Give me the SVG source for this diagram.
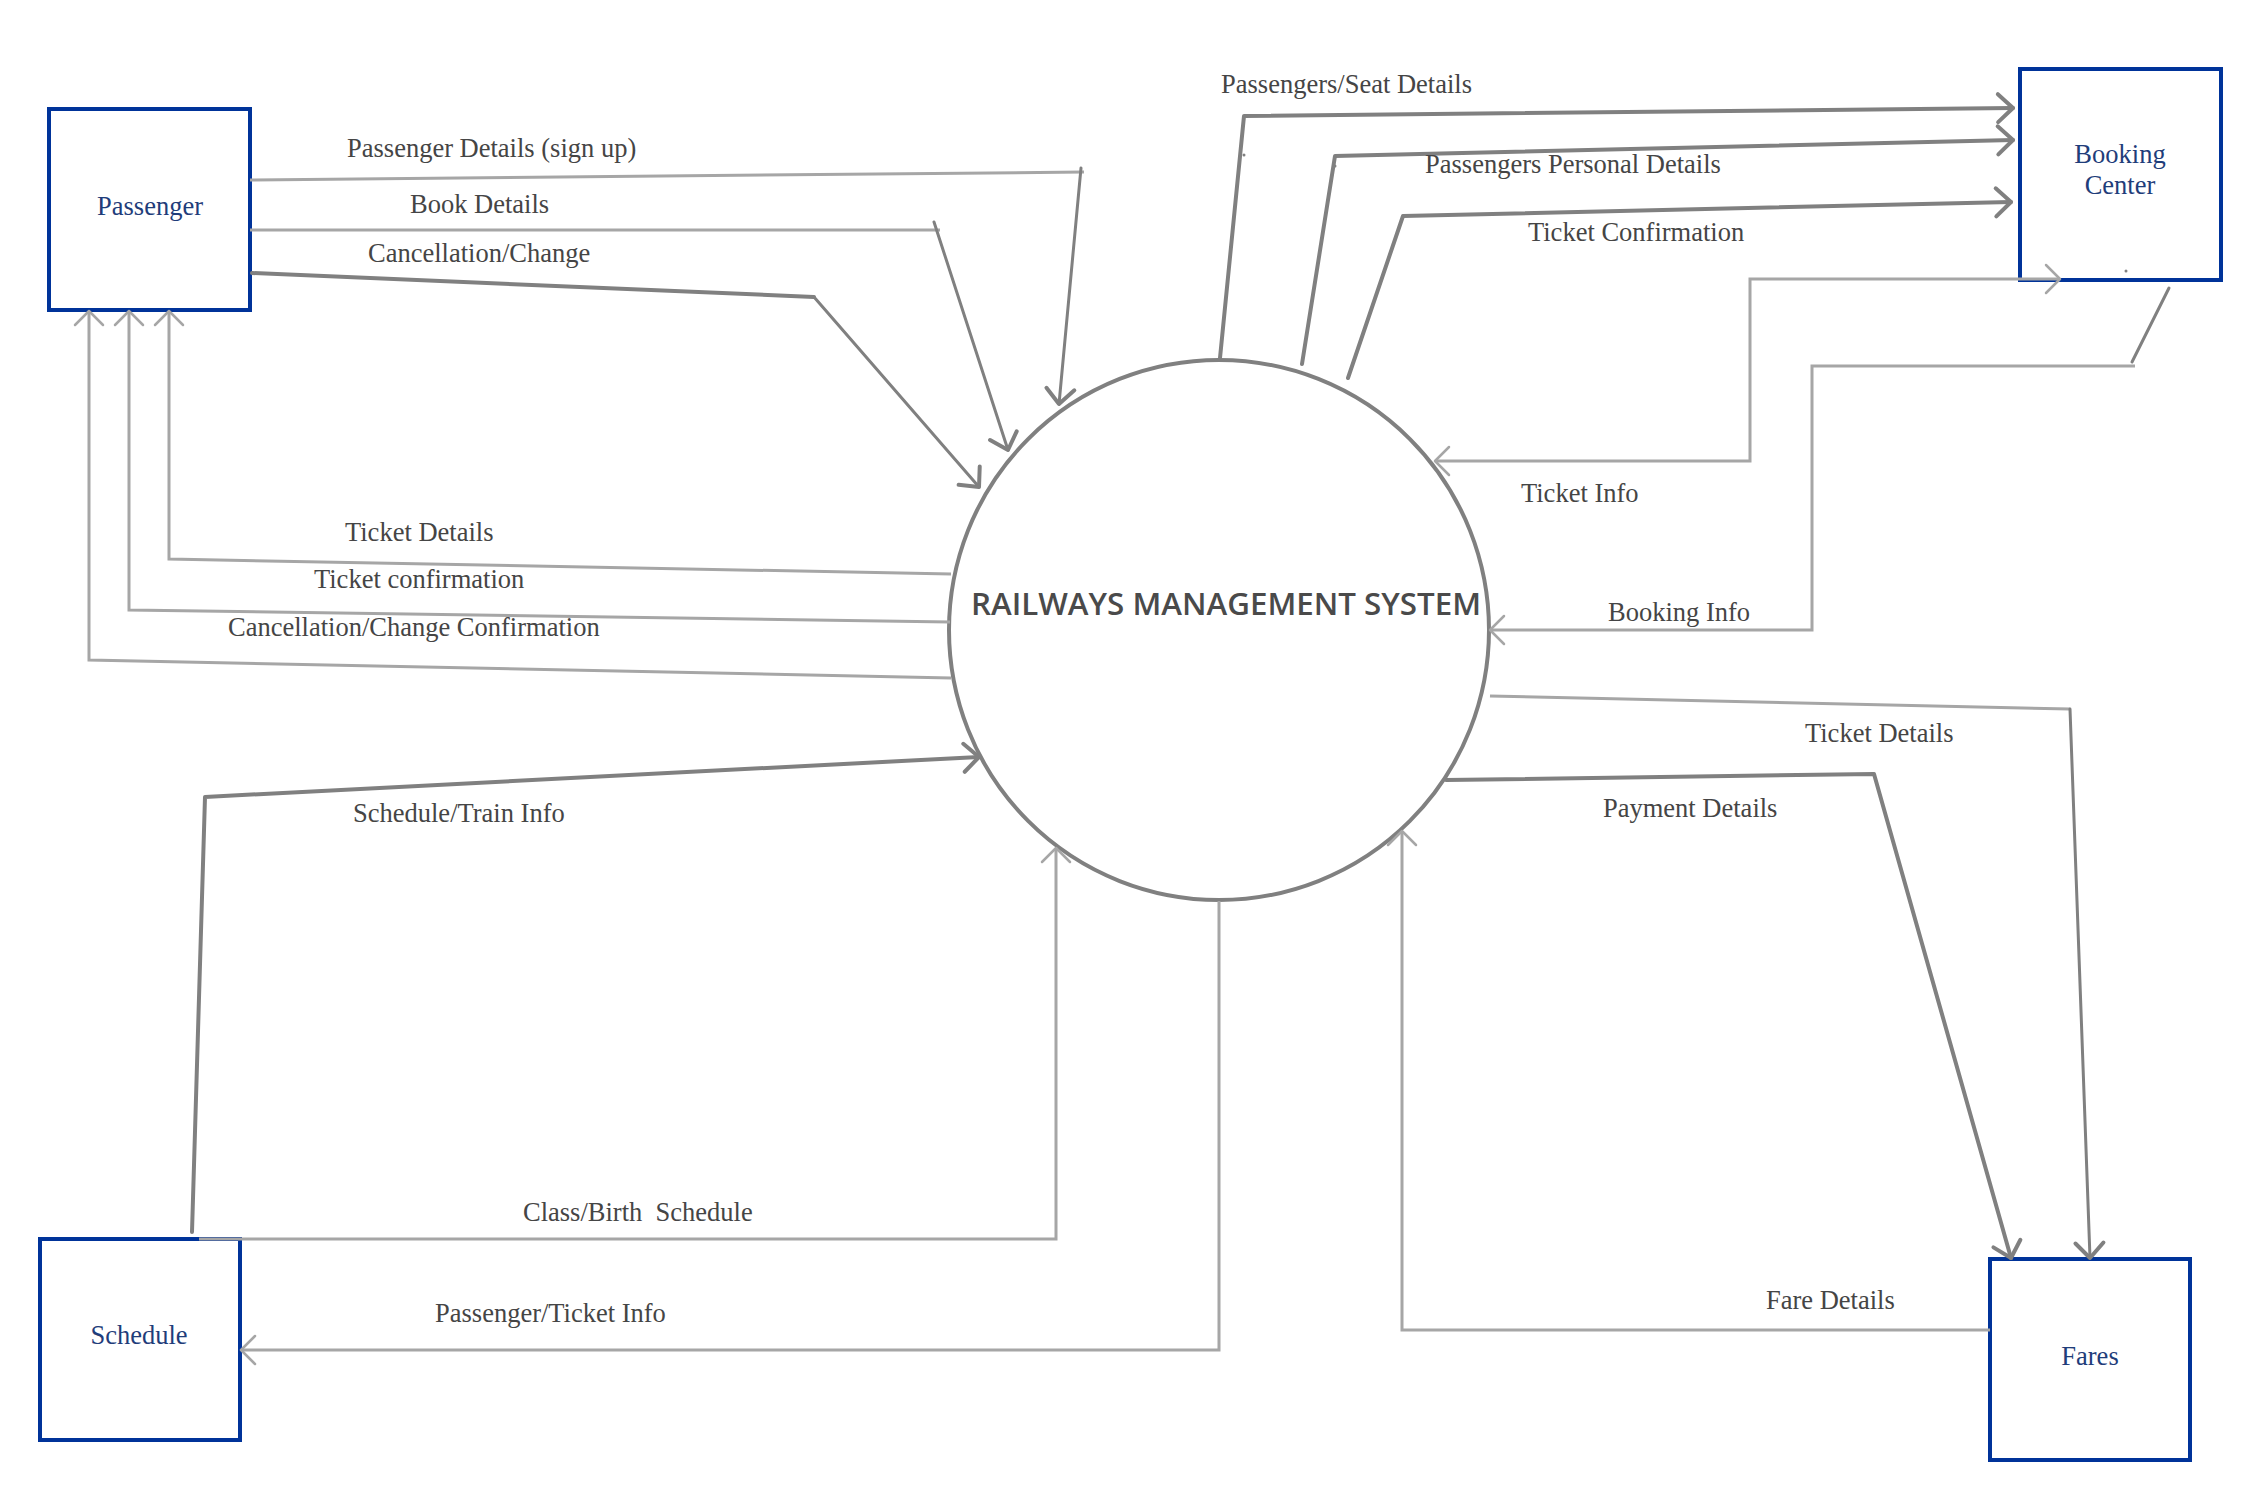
<svg xmlns="http://www.w3.org/2000/svg" width="2260" height="1500" viewBox="0 0 2260 1500">
<style>
.node rect{fill:#ffffff;stroke:#003399;stroke-width:4}
.ntext{font-family:"Liberation Serif","Times New Roman",serif;font-size:26.5px;fill:#1f3d7a;text-anchor:middle}
.lbl{font-family:"Liberation Serif","Times New Roman",serif;font-size:26.5px;fill:#454545;white-space:pre}
.dk{fill:none;stroke:#808080;stroke-width:4;stroke-linejoin:round;stroke-linecap:round}
.dk3{fill:none;stroke:#808080;stroke-width:3;stroke-linejoin:round;stroke-linecap:round}
.lt{fill:none;stroke:#a6a6a6;stroke-width:3;stroke-linejoin:miter}
.title{font-family:"Open Sans","Noto Sans","DejaVu Sans",sans-serif;font-size:31px;font-weight:600;fill:#4a4a4a;text-anchor:middle}
</style>
<defs>
<marker id="ad" markerUnits="userSpaceOnUse" viewBox="-22 -18 26 36" refX="0" refY="0" markerWidth="26" markerHeight="36" orient="auto-start-reverse">
<path d="M-15,-14 L0,0 L-15,14" fill="none" stroke="#808080" stroke-width="4" stroke-linecap="round" stroke-linejoin="round"/>
</marker>
<marker id="al" markerUnits="userSpaceOnUse" viewBox="-22 -18 26 36" refX="0" refY="0" markerWidth="26" markerHeight="36" orient="auto-start-reverse">
<path d="M-14,-14 L0,0 L-14,14" fill="none" stroke="#a6a6a6" stroke-width="2.5" stroke-linecap="round" stroke-linejoin="round"/>
</marker>
</defs>
<rect width="2260" height="1500" fill="#ffffff"/>

<g id="system">
<circle cx="1219" cy="630" r="270" fill="#ffffff" stroke="#808080" stroke-width="4"/>
<text class="title" x="1226" y="615" textLength="510" lengthAdjust="spacingAndGlyphs">RAILWAYS MANAGEMENT SYSTEM</text>
</g>

<g id="passenger" class="node">
<rect x="49" y="109" width="201" height="201"/>
<text class="ntext" x="150" y="215">Passenger</text>
</g>

<g id="booking-center" class="node">
<rect x="2020" y="69" width="201" height="211"/>
<text class="ntext" x="2120" y="163">Booking</text>
<text class="ntext" x="2120" y="194">Center</text>
</g>

<g id="schedule" class="node">
<rect x="40" y="1239" width="200" height="201"/>
<text class="ntext" x="139" y="1344">Schedule</text>
</g>

<g id="fares" class="node">
<rect x="1990" y="1259" width="200" height="201"/>
<text class="ntext" x="2090" y="1365">Fares</text>
</g>

<g id="connectors">
<!-- Passenger -> system -->
<polyline class="lt" points="250,180 1084,172"/>
<polyline class="dk3" points="1081,168 1059,404" marker-end="url(#ad)"/>
<polyline class="lt" points="250,230 940,230"/>
<polyline class="dk3" points="934,222 1008,450" marker-end="url(#ad)"/>
<polyline class="dk" points="252,273 814,297"/>
<polyline class="dk3" points="814,297 979,487" marker-end="url(#ad)"/>
<!-- system -> Passenger -->
<polyline class="lt" points="951,574 169,559 169,311" marker-end="url(#al)"/>
<polyline class="lt" points="950,622 129,610 129,311" marker-end="url(#al)"/>
<polyline class="lt" points="951,678 89,660 89,311" marker-end="url(#al)"/>
<!-- system -> Booking Center -->
<polyline class="dk" points="1220,358 1244,116 2013,108" marker-end="url(#ad)"/>
<polyline class="dk" points="1302,364 1335,156 2013,140" marker-end="url(#ad)"/>
<polyline class="dk" points="1348,378 1403,216 2011,202" marker-end="url(#ad)"/>
<!-- Ticket Info -->
<polyline class="lt" points="2060,279 1750,279 1750,461 1435,461" marker-start="url(#al)" marker-end="url(#al)"/>
<!-- Booking Info -->
<polyline class="dk3" points="2169,288 2132,362"/>
<polyline class="lt" points="2135,366 1812,366 1812,630 1490,630" marker-end="url(#al)"/>
<!-- Ticket Details -> Fares -->
<polyline class="lt" points="1490,696 2070,709"/>
<polyline class="dk3" points="2070,709 2090,1258" marker-end="url(#ad)"/>
<!-- Payment Details -->
<polyline class="dk" points="1446,780 1874,774 2011,1258" marker-end="url(#ad)"/>
<!-- Fare Details -->
<polyline class="lt" points="1990,1330 1402,1330 1402,831" marker-end="url(#al)"/>
<!-- Class/Birth Schedule -->
<polyline class="lt" points="199,1239 1056,1239 1056,848" marker-end="url(#al)"/>
<!-- Schedule/Train Info -->
<polyline class="dk" points="192,1232 205,797 979,757" marker-end="url(#ad)"/>
<!-- Passenger/Ticket Info -->
<polyline class="lt" points="1219,901 1219,1350 241,1350" marker-end="url(#al)"/>
<!-- stray dots -->
<circle cx="1244" cy="155" r="1.5" fill="#808080"/>
<circle cx="1335" cy="166" r="1.5" fill="#808080"/>
<circle cx="2126" cy="271" r="1.5" fill="#808080"/>
</g>

<g id="labels">
<text class="lbl" x="347" y="157">Passenger Details (sign up)</text>
<text class="lbl" x="410" y="213">Book Details</text>
<text class="lbl" x="368" y="262">Cancellation/Change</text>
<text class="lbl" x="345" y="541">Ticket Details</text>
<text class="lbl" x="314" y="588">Ticket confirmation</text>
<text class="lbl" x="228" y="636">Cancellation/Change Confirmation</text>
<text class="lbl" x="1221" y="93">Passengers/Seat Details</text>
<text class="lbl" x="1425" y="173">Passengers Personal Details</text>
<text class="lbl" x="1528" y="241">Ticket Confirmation</text>
<text class="lbl" x="1521" y="502">Ticket Info</text>
<text class="lbl" x="1608" y="621">Booking Info</text>
<text class="lbl" x="1805" y="742">Ticket Details</text>
<text class="lbl" x="1603" y="817">Payment Details</text>
<text class="lbl" x="1766" y="1309">Fare Details</text>
<text class="lbl" x="353" y="822">Schedule/Train Info</text>
<text class="lbl" x="523" y="1221" xml:space="preserve">Class/Birth  Schedule</text>
<text class="lbl" x="435" y="1322">Passenger/Ticket Info</text>
</g>
</svg>
